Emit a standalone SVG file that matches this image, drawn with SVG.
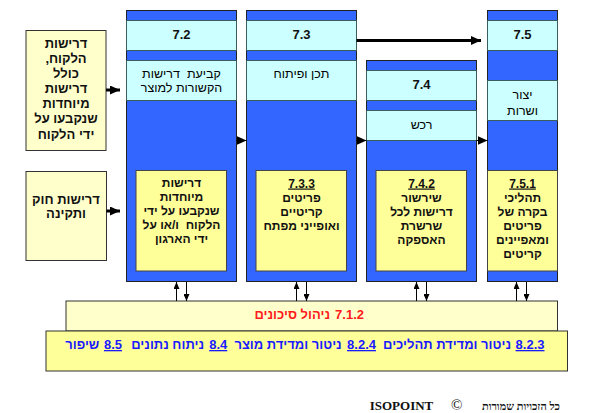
<svg xmlns="http://www.w3.org/2000/svg" width="591" height="413" viewBox="0 0 591 413">
<style>
text{font-family:"Liberation Sans",Arial,"DejaVu Sans",sans-serif;fill:#111;text-anchor:middle}
.col{fill:#3366ff;stroke:#222;stroke-width:1}
.band{fill:#ccffff;stroke:#3a5e5e;stroke-width:1}
.inner{fill:#ffff99;stroke:#444;stroke-width:1}
.side{fill:#ffffcc;stroke:#333;stroke-width:1}
.h{font-size:13px;font-weight:bold}
.t{font-size:12.5px;fill:#000}
.b{font-size:12px;font-weight:bold}
.s{font-size:13px;font-weight:bold}
.u{text-decoration:underline}
.red{font-size:13px;font-weight:bold;fill:#ff1a1a;text-anchor:end}
.blue{font-size:13px;font-weight:bold;fill:#1a1aff;text-anchor:end}
.thick{stroke:#000;stroke-width:3;fill:none}
.thin{stroke:#000;stroke-width:1;fill:none}
</style>
<defs>
<marker id="ah" markerUnits="userSpaceOnUse" markerWidth="10" markerHeight="9" refX="10" refY="4.5" orient="auto"><path d="M0,0 L10,4.5 L0,9 z" fill="#000"/></marker>
<marker id="as" markerUnits="userSpaceOnUse" markerWidth="7" markerHeight="6" refX="7" refY="3" orient="auto"><path d="M0,0 L7,3 L0,6 z" fill="#000"/></marker>
</defs>

<g id="req-customer">
<rect class="side" x="26" y="30.5" width="80" height="120"/>
<text class="s" x="66" y="47.5">דרישות</text>
<text class="s" x="66" y="62.5" direction="rtl">הלקוח,</text>
<text class="s" x="66" y="77.5">כולל</text>
<text class="s" x="66" y="93">דרישות</text>
<text class="s" x="66" y="108">מיוחדות</text>
<text class="s" x="66" y="123">שנקבעו על</text>
<text class="s" x="66" y="138.5">ידי הלקוח</text>
</g>

<g id="req-law">
<rect class="side" x="26" y="171.5" width="80.5" height="89"/>
<text class="s" x="66" y="203.5">דרישות חוק</text>
<text class="s" x="66" y="218">ותקינה</text>
</g>

<g id="col-7-2">
<rect class="col" x="126.5" y="10.5" width="110" height="271"/>
<rect class="band" x="126.5" y="20.5" width="110" height="30"/>
<rect class="band" x="126.5" y="60.5" width="110" height="40"/>
<text class="h" x="181.5" y="38.5">7.2</text>
<text class="t" x="181.5" y="77.5">קביעת&#160; דרישות</text>
<text class="t" x="181.5" y="91.5">הקשורות למוצר</text>
<rect class="inner" x="136" y="170.5" width="90.5" height="100.5"/>
<text class="b" x="181.5" y="187">דרישות</text>
<text class="b" x="181.5" y="201">מיוחדות</text>
<text class="b" x="181.5" y="215">שנקבעו על ידי</text>
<text class="b" x="181.5" y="229">הלקוח&#160; ו/או על</text>
<text class="b" x="181.5" y="243">ידי הארגון</text>
</g>

<g id="col-7-3">
<rect class="col" x="246.5" y="10.5" width="110" height="271"/>
<rect class="band" x="246.5" y="20.5" width="110" height="30"/>
<rect class="band" x="246.5" y="60.5" width="110" height="40"/>
<text class="h" x="301.5" y="38.5">7.3</text>
<text class="t" x="301.5" y="78">תכן ופיתוח</text>
<rect class="inner" x="256" y="170.5" width="90.5" height="100.5"/>
<text class="b u" x="301.5" y="187.5">7.3.3</text>
<text class="b" x="301.5" y="201.5">פריטים</text>
<text class="b" x="301.5" y="215.5">קריטיים</text>
<text class="b" x="301.5" y="229.5">ואופייני מפתח</text>
</g>

<g id="col-7-4">
<rect class="col" x="366.5" y="60.5" width="110" height="221"/>
<rect class="band" x="366.5" y="70.5" width="110" height="30"/>
<rect class="band" x="366.5" y="110.5" width="110" height="30"/>
<text class="h" x="421.5" y="88.5">7.4</text>
<text class="t" x="421.5" y="128.5">רכש</text>
<rect class="inner" x="376" y="170.5" width="90.5" height="100.5"/>
<text class="b u" x="421.5" y="187.5">7.4.2</text>
<text class="b" x="421.5" y="201.5">שירשור</text>
<text class="b" x="421.5" y="215.5">דרישות לכל</text>
<text class="b" x="421.5" y="229.5">שרשרת</text>
<text class="b" x="421.5" y="243.5">האספקה</text>
</g>

<g id="col-7-5">
<rect class="col" x="487.5" y="10.5" width="70" height="271"/>
<rect class="band" x="487.5" y="20.5" width="70" height="30"/>
<rect class="band" x="487.5" y="80.5" width="70" height="40"/>
<text class="h" x="522.5" y="38.5">7.5</text>
<text class="t" x="522.5" y="98.5">יצור</text>
<text class="t" x="522.5" y="115">ושרות</text>
<rect class="inner" x="487.5" y="170.5" width="70" height="100.5"/>
<text class="b u" x="522.5" y="187.5">7.5.1</text>
<text class="b" x="522.5" y="201.5">תהליכי</text>
<text class="b" x="522.5" y="215.5">בקרה של</text>
<text class="b" x="522.5" y="229.5">פריטים</text>
<text class="b" x="522.5" y="243.5">ומאפיינים</text>
<text class="b" x="522.5" y="257.5">קריטים</text>
</g>

<g id="risk">
<rect class="side" x="66" y="301" width="491.5" height="30"/>
<text class="red" x="364" y="318.5">7.1.2</text>
<text class="red" x="330" y="318.5">ניהול סיכונים</text>
</g>

<g id="measure">
<rect x="46" y="331" width="521.5" height="40" fill="#ffff99" stroke="#333" stroke-width="1"/>
<text class="blue u" x="544.5" y="349">8.2.3</text>
<text class="blue" x="511" y="349">ניטור ומדידת תהליכים</text>
<text class="blue u" x="376" y="349">8.2.4</text>
<text class="blue" x="341.7" y="349">ניטור ומדידת מוצר</text>
<text class="blue u" x="227.3" y="349">8.4</text>
<text class="blue" x="204" y="349">ניתוח נתונים</text>
<text class="blue u" x="122" y="349">8.5</text>
<text class="blue" x="99.3" y="349">שיפור</text>
</g>

<g id="copyright">
<text x="560" y="410" style="font-family:'Liberation Serif','DejaVu Serif',serif;font-size:11px;font-weight:bold;text-anchor:end">כל הזכויות שמורות</text>
<text x="456.7" y="410" style="font-family:'Liberation Serif',serif;font-size:15px;text-anchor:middle">©</text>
<text x="401.5" y="410" style="font-family:'Liberation Serif',serif;font-size:13px;font-weight:bold;text-anchor:middle">ISOPOINT</text>
</g>

<g id="connectors">
<line class="thick" x1="106" y1="90" x2="120" y2="90" marker-end="url(#ah)"/>
<line class="thick" x1="106.5" y1="211" x2="120" y2="211" marker-end="url(#ah)"/>
<line class="thick" x1="356.5" y1="40.5" x2="481" y2="40.5" marker-end="url(#ah)"/>
<line class="thin" x1="236.5" y1="140.5" x2="246.5" y2="140.5" marker-end="url(#ah)"/>
<line class="thin" x1="356.5" y1="140.5" x2="366.5" y2="140.5" marker-end="url(#ah)"/>
<line class="thin" x1="476.5" y1="140.5" x2="487.5" y2="140.5" marker-end="url(#ah)"/>
<line class="thin" x1="176.5" y1="301" x2="176.5" y2="282" marker-end="url(#as)"/>
<line class="thin" x1="186.5" y1="282" x2="186.5" y2="301" marker-end="url(#as)"/>
<line class="thin" x1="296.5" y1="301" x2="296.5" y2="282" marker-end="url(#as)"/>
<line class="thin" x1="306.5" y1="282" x2="306.5" y2="301" marker-end="url(#as)"/>
<line class="thin" x1="416.5" y1="301" x2="416.5" y2="282" marker-end="url(#as)"/>
<line class="thin" x1="426.5" y1="282" x2="426.5" y2="301" marker-end="url(#as)"/>
<line class="thin" x1="516.5" y1="301" x2="516.5" y2="282" marker-end="url(#as)"/>
<line class="thin" x1="526.5" y1="282" x2="526.5" y2="301" stroke-width="1.5" marker-end="url(#as)"/>
</g>
</svg>
